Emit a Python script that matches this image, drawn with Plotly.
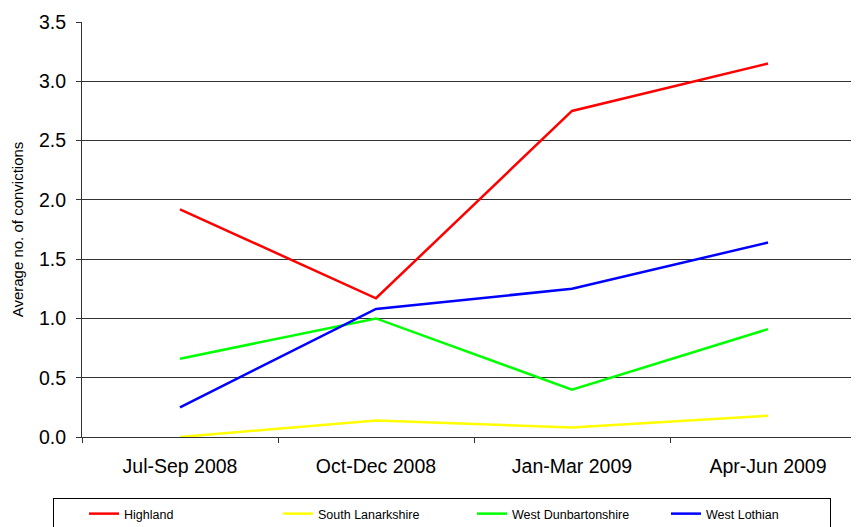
import plotly.graph_objects as go

quarters = ["Jul-Sep 2008", "Oct-Dec 2008", "Jan-Mar 2009", "Apr-Jun 2009"]
highland = [1.92, 1.17, 2.75, 3.15]
south_lanarkshire = [0.0, 0.14, 0.08, 0.18]
west_dunbartonshire = [0.66, 1.0, 0.40, 0.91]
west_lothian = [0.25, 1.08, 1.25, 1.64]

series = [
    ("Highland", highland, "#FF0000"),
    ("South Lanarkshire", south_lanarkshire, "#FFFF00"),
    ("West Dunbartonshire", west_dunbartonshire, "#00FF00"),
    ("West Lothian", west_lothian, "#0000FF"),
]

fig = go.Figure()
for name, vals, col in series:
    fig.add_trace(go.Scatter(x=quarters, y=vals, mode="lines", name=name,
                             line=dict(color=col, width=2.5)))

# page body has an 8px margin, so the figure is 8px smaller than the window
fig.update_layout(
    width=851, height=519,
    margin=dict(l=74, r=0, t=14, b=90, autoexpand=False),
    paper_bgcolor="white", plot_bgcolor="white",
    font=dict(family="Liberation Sans, Arial, sans-serif", color="black", size=19.5),
    showlegend=True,
    legend=dict(orientation="h", x=-29 / 777, xanchor="left", y=-61 / 415, yanchor="top",
                bordercolor="black", borderwidth=1, font=dict(size=12.5),
                entrywidth=119, entrywidthmode="pixels", traceorder="normal",
                indentation=30),
)
fig.update_xaxes(
    type="category", range=[-0.5, 3.5 - 7 / 196], tickson="boundaries",
    ticks="outside", ticklen=5, tickcolor="#333", showline=True, linecolor="#333",
    showgrid=False, ticklabelstandoff=12, automargin=False,
)
fig.update_yaxes(
    range=[0, 3.5], dtick=0.5, tickformat=".1f", ticks="outside", ticklen=5,
    tickcolor="#333", showline=True, linecolor="#333", showgrid=True,
    gridcolor="#333", gridwidth=1, zeroline=False, ticklabelstandoff=6,
    automargin=False,
    title=dict(text="Average no. of convictions", font=dict(size=15), standoff=11),
)

fig.write_html("out.html")
